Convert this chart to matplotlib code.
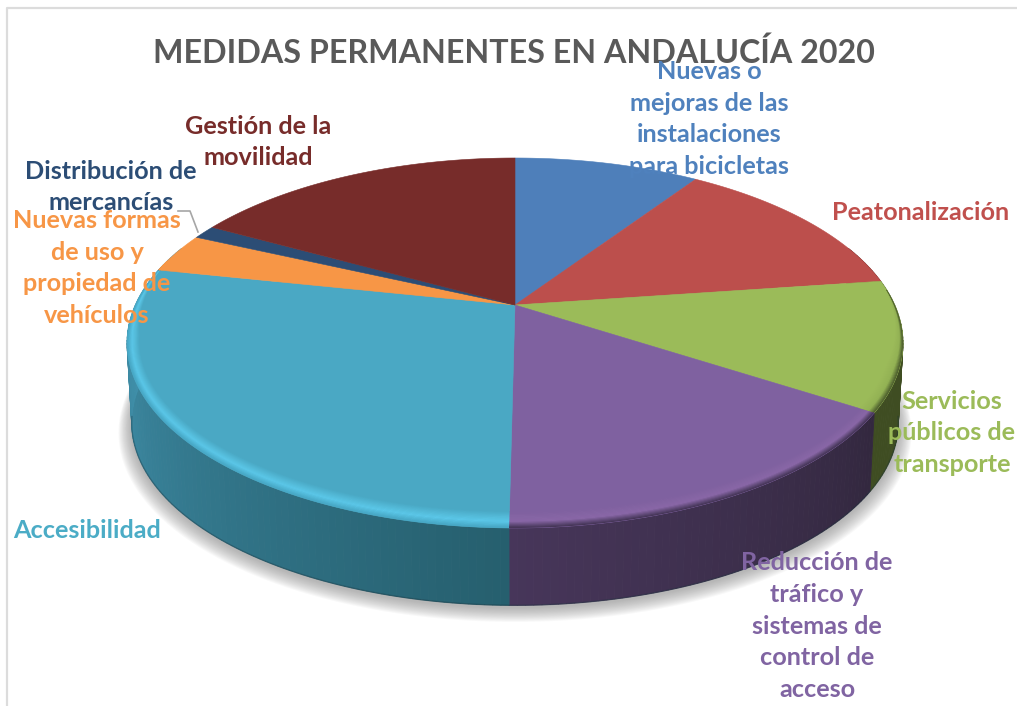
import numpy as np
import matplotlib
matplotlib.use("Agg")
import matplotlib.pyplot as plt
from matplotlib.colors import to_rgb

plt.rcParams['font.family'] = ['Lato', 'Open Sans', 'DejaVu Sans']

title = "MEDIDAS PERMANENTES EN ANDALUCÍA 2020"

# shares of each measure, clockwise from 12 o'clock
categories = ["Nuevas o\nmejoras de las\ninstalaciones\npara bicicletas",
              "Peatonalización",
              "Servicios\npúblicos de\ntransporte",
              "Reducción de\ntráfico y\nsistemas de\ncontrol de\nacceso",
              "Accesibilidad",
              "Nuevas formas\nde uso y\npropiedad de\nvehículos",
              "Distribución de\nmercancías",
              "Gestión de la\nmovilidad"]
values = [9.4, 13.4, 11.3, 16.1, 28.1, 3.5, 1.2, 17.0]

colors = ["#4e7fba", "#bc4f4c", "#9bbb59", "#7f61a0",
          "#4aa8c4", "#f79646", "#2c4d75", "#772c2a"]
label_colors = ["#4f81bd", "#c0504d", "#9bbb59", "#8064a2",
                "#4bacc6", "#f79646", "#2c4d75", "#772c2a"]
label_x = [709, 921, 952, 817, 87, 97, 111, 258]
label_y = [119, 212, 433, 626, 530, 268, 187, 142]

# wall colour at the start and end of each wedge, and the bevel colours
wall_start = ["#3a5d8a", "#5e2826", "#3f4d22", "#33283f",
              "#265f6e", "#4497b3", "#1c3450", "#4a1c1a"]
wall_end = ["#3a5d8a", "#5e2826", "#3f4d22", "#47365a",
            "#4497b3", "#4497b3", "#1c3450", "#4a1c1a"]
bevel_mid = ["#4e7fba", "#bc4f4c", "#93b254", "#8a68a8",
             "#5cc9ea", "#f79646", "#2c4d75", "#772c2a"]
bevel_out = ["#4e7fba", "#bc4f4c", "#46562a", "#3f3150",
             "#46a6c4", "#f79646", "#2c4d75", "#772c2a"]

# geometry of the tilted disc, in pixels
cx, cy = 515, 305
a, b, k = 379.7, 177.2, 0.2054
depth, shrink = 80, 0.988


def rim(phi, sx=1.0, sy=1.0):
    # perspective view of a circle, phi in degrees clockwise from the top
    p = np.radians(phi)
    w = 1 + k * np.cos(p)
    return cx + sx * a * np.sin(p) / w, cy - sy * b * np.cos(p) / w


def lower(phi, grow=0.0, dy=0.0):
    x, y = rim(phi)
    return cx + (shrink + grow) * (x - cx), cy + depth + dy + (shrink + grow) * (y - cy)


def mix(c1, c2, t):
    c1, c2 = np.array(to_rgb(c1)), np.array(to_rgb(c2))
    return tuple(c1 + (c2 - c1) * t)


def taper(phi):
    return np.clip((phi - 85) / 25, 0, 1) * np.clip((285 - phi) / 25, 0, 1)


edges = np.concatenate([[0], np.cumsum(values)]) / np.sum(values) * 360

fig = plt.figure(figsize=(10.17, 7.06), dpi=100)
ax = fig.add_axes([0, 0, 1, 1])
ax.set_xlim(0, 1017)
ax.set_ylim(706, 0)
ax.axis("off")

# chart border, only the top and left sides show
ax.plot([6.5, 6.5, 1017], [706, 8, 8], color="#dcdcdc", lw=1.6, zorder=1)

# soft shadow under the disc
circle = np.linspace(0, 360, 361)
for i in range(14):
    g = 0.034 - i * 0.0024
    sx, sy = lower(circle, grow=g, dy=9 - i * 0.5)
    ax.fill(sx, sy, color="#808080", alpha=0.05, lw=0, zorder=2)

# side wall, one thin quad per degree so the shade can change along it
for i in range(len(values)):
    lo, hi = max(edges[i], 70), min(edges[i + 1], 290)
    if hi <= lo:
        continue
    steps = np.linspace(lo, hi, int(hi - lo) + 2)
    for p0, p1 in zip(steps[:-1], steps[1:]):
        t = (p0 - edges[i]) / (edges[i + 1] - edges[i])
        c = mix(wall_start[i], wall_end[i], t)
        x0, y0 = rim(p0)
        x1, y1 = rim(p1)
        x2, y2 = lower(p1)
        x3, y3 = lower(p0)
        ax.fill([x0, x1, x2, x3], [y0, y1, y2, y3], color=c, lw=0.6, zorder=3)

# dark line along the bottom edge of the wall
bx, by = lower(np.linspace(100, 260, 200))
ax.plot(bx, by, color="#16303a", alpha=0.35, lw=1.0, zorder=4)

# flat top, and the bevel on the front rim clipped to each wedge
n_band = 14
for i in range(len(values)):
    arc = np.linspace(edges[i], edges[i + 1], 150)
    x, y = rim(arc)
    top = ax.fill(np.r_[cx, x], np.r_[cy, y], color=colors[i], lw=0.4, zorder=5)[0]

    lo, hi = max(edges[i] - 4, 85), min(edges[i + 1] + 4, 285)
    if hi <= lo:
        continue
    arc = np.linspace(lo, hi, 120)
    w = taper(arc)
    for j in range(n_band):
        t0, t1 = j / n_band, (j + 1) / n_band
        tm = (t0 + t1) / 2
        if tm < 0.6:
            c = mix(colors[i], bevel_mid[i], tm / 0.6)
        else:
            c = mix(bevel_mid[i], bevel_out[i], (tm - 0.6) / 0.4)
        xi, yi = rim(arc, 1 - 0.032 * w * (1 - t0), 1 - 0.075 * w * (1 - t0))
        xo, yo = rim(arc, 1 - 0.032 * w * (1 - t1), 1 - 0.075 * w * (1 - t1))
        band = ax.fill(np.r_[xi, xo[::-1]], np.r_[yi, yo[::-1]], color=c, lw=0.3, zorder=6)[0]
        band.set_clip_path(top)

# leader line of the small slice
ax.plot([178, 190, 198], [211, 211, 232], color="#a6a6a6", lw=1.2, zorder=7)

ax.text(514, 53, title, ha="center", va="center", fontsize=23.2,
        fontweight="bold", color="#595959", zorder=8)

for i, name in enumerate(categories):
    ax.text(label_x[i], label_y[i], name, ha="center", va="center", fontsize=18.2,
            fontweight="bold", color=label_colors[i], linespacing=1.47, zorder=8)

fig.savefig("out.png", dpi=100)
